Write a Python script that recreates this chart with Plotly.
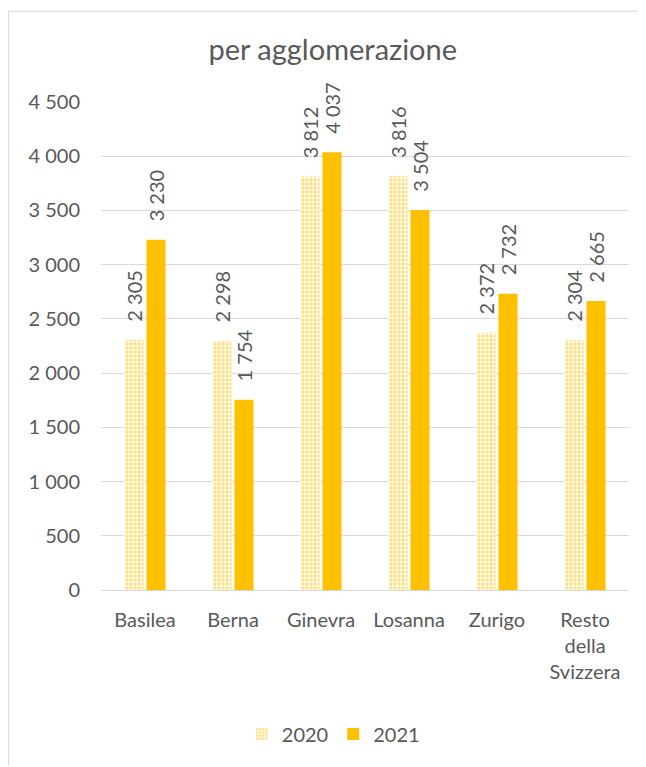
import plotly.graph_objects as go

categories = ["Basilea", "Berna", "Ginevra", "Losanna", "Zurigo", "Resto<br>della<br>Svizzera"]
values_2020 = [2305, 2298, 3812, 3816, 2372, 2304]
values_2021 = [3230, 1754, 4037, 3504, 2732, 2665]
y_ticks = [0, 500, 1000, 1500, 2000, 2500, 3000, 3500, 4000, 4500]

GOLD = "#FFC000"
GREY = "#595959"
LINE = "#d9d9d9"
FONT = "Lato, Open Sans, sans-serif"
PAD = "\u00a0\u00a0\u00a0"  # keeps the labels a little off the bar tops

# the page adds an 8px margin round the figure, so the figure is drawn 8px smaller
fig = go.Figure()
fig.add_trace(
    go.Bar(
        name="2020",
        x=categories,
        y=values_2020,
        marker={
            "color": "white",
            "line": {"width": 0},
            "pattern": {"shape": ".", "fgcolor": GOLD, "bgcolor": "white",
                        "size": 4, "solidity": 0.6},
        },
        texttemplate=PAD + "%{y:,.0f}",
        textposition="outside",
        textangle=-90,
        constraintext="none",
        textfont={"size": 20, "color": GREY},
        cliponaxis=False,
    )
)
fig.add_trace(
    go.Bar(
        name="2021",
        x=categories,
        y=values_2021,
        marker={"color": GOLD, "line": {"width": 0}},
        texttemplate=PAD + "%{y:,.0f}",
        textposition="outside",
        textangle=-90,
        constraintext="none",
        textfont={"size": 20, "color": GREY},
        cliponaxis=False,
    )
)

fig.update_layout(
    width=638,
    height=759,
    paper_bgcolor="white",
    plot_bgcolor="white",
    separators=", ",
    font={"family": FONT, "size": 20, "color": GREY},
    title={"text": "per agglomerazione", "x": 0.509, "xanchor": "center",
           "y": 0.945, "yanchor": "middle", "font": {"size": 29, "color": GREY}},
    margin={"l": 93, "r": 17, "t": 94, "b": 177},
    barmode="group",
    bargap=0.5,
    bargroupgap=0.136,
    showlegend=True,
    legend={"orientation": "h", "x": 0.44, "xanchor": "center", "y": -0.295,
            "yanchor": "middle", "font": {"size": 20, "color": GREY},
            "itemwidth": 30, "traceorder": "normal"},
    xaxis={"showgrid": False, "ticks": "", "showline": True,
           "linecolor": LINE, "linewidth": 1, "ticklabelstandoff": 12,
           "tickfont": {"size": 20, "color": GREY}},
    yaxis={"range": [0, 4500], "tickvals": y_ticks, "tickformat": ",.0f",
           "showgrid": True, "gridcolor": LINE, "gridwidth": 1,
           "zeroline": False, "ticks": "", "ticklabelstandoff": 20,
           "tickfont": {"size": 20, "color": GREY}},
    shapes=[
        {"type": "line", "xref": "paper", "yref": "paper",
         "x0": -0.175, "x1": 1.04, "y0": 1.186, "y1": 1.186,
         "line": {"color": LINE, "width": 1}},
        {"type": "line", "xref": "paper", "yref": "paper",
         "x0": -0.175, "x1": -0.175, "y0": -0.36, "y1": 1.186,
         "line": {"color": LINE, "width": 1}},
    ],
)

fig.write_html("out.html")
